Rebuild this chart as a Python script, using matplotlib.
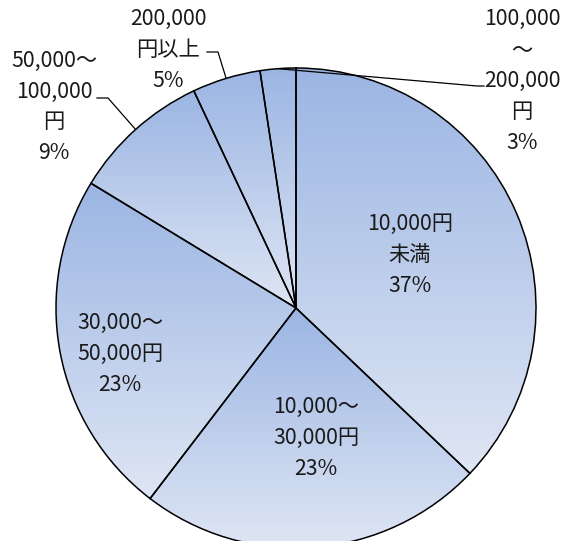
import numpy as np
import matplotlib
matplotlib.use('Agg')
import matplotlib.pyplot as plt
from matplotlib.colors import LinearSegmentedColormap

plt.rcParams['font.family'] = ['Noto Sans CJK JP', 'DejaVu Sans']

# 金額帯ごとの割合（時計回り、12時の位置から）
categories = ['10,000円\n未満', '10,000〜\n30,000円', '30,000〜\n50,000円',
              '50,000〜\n100,000\n円', '200,000\n円以上', '100,000\n〜\n200,000\n円']
shares = [37.1, 23.3, 23.3, 9.3, 4.6, 2.4]
pct_labels = ['37%', '23%', '23%', '9%', '5%', '3%']

W, H = 565, 541
# ラベル位置 (ピクセル座標, 上から)
label_pos = [(410, 255), (316, 438), (120, 354), (54, 107), (168, 50), (522, 81)]
# 引き出し線の折れ点 (None = 線なし)
leader = [None, None, None, [(108, 98), (97, 98)], [(218, 52), (207, 52)],
          [(477, 86), (484, 86)]]

fig = plt.figure(figsize=(W / 100, H / 100), dpi=100)
ax = fig.add_axes([0, 0, 1, 1])

cx, cy, r = 296, H - 308, 240
wedges, _ = ax.pie(shares, radius=r, center=(cx, cy), startangle=90,
                   counterclock=False, frame=True,
                   wedgeprops=dict(facecolor='none', edgecolor='black', linewidth=1.1))

# スライスごとに縦方向のグラデーション
cmap = LinearSegmentedColormap.from_list('g', ['#dfe6f4', '#9bb5e3'])
grad = np.linspace(0, 1, 256).reshape(-1, 1)
for w in wedges:
    bb = w.get_path().get_extents()
    im = ax.imshow(grad, cmap=cmap, extent=[bb.x0, bb.x1, bb.y0, bb.y1],
                   origin='lower', aspect='auto', zorder=0, interpolation='bicubic')
    im.set_clip_path(w)

for w, cat, pct, (lx, ly), ld in zip(wedges, categories, pct_labels, label_pos, leader):
    ax.text(lx, H - ly, cat + '\n' + pct, ha='center', va='center',
            fontsize=15.3, linespacing=1.52, color='#1a1a1a')
    if ld is not None:
        a = np.deg2rad((w.theta1 + w.theta2) / 2)
        xs = [cx + r * np.cos(a)] + [p[0] for p in ld]
        ys = [cy + r * np.sin(a)] + [H - p[1] for p in ld]
        ax.plot(xs, ys, color='black', lw=0.9, zorder=3)

ax.set_xlim(0, W)
ax.set_ylim(0, H)
ax.set_aspect('equal')
ax.axis('off')

fig.savefig('out.png', dpi=100)
